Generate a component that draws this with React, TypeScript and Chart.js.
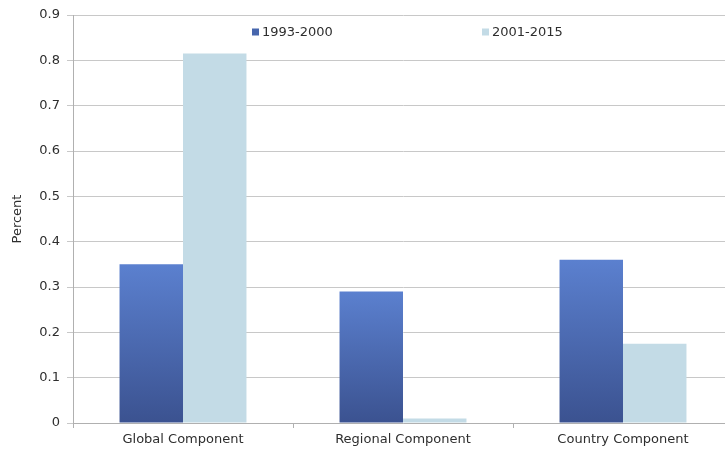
import React, { useEffect, useRef } from "react";
import { Chart, registerables, Plugin } from "chart.js";

Chart.register(...registerables);

const categories = ["Global Component", "Regional Component", "Country Component"];
const seriesLabels = ["1993-2000", "2001-2015"];
const period1993 = [0.35, 0.29, 0.36];
const period2001 = [0.815, 0.01, 0.175];
const yTicks = [0, 0.1, 0.2, 0.3, 0.4, 0.5, 0.6, 0.7, 0.8, 0.9];

const FONT = "'DejaVu Sans', Verdana, sans-serif";
const DARK_TOP = "#5b80cf";
const DARK_BOTTOM = "#3b5290";
const LIGHT = "#c3dbe6";
const TEXT = "#2e2e2e";
const AXIS = "#b0b0b0";

// Legend drawn inside the plot, spread across the top
const keyPlugin: Plugin<"bar"> = {
  id: "spreadKey",
  afterDraw(chart) {
    const ctx = chart.ctx;
    const xs = [252, 482];
    const y = 32;
    ctx.save();
    ctx.font = `13px ${FONT}`;
    ctx.textBaseline = "middle";
    ctx.textAlign = "left";
    chart.data.datasets.forEach((ds, i) => {
      const x = xs[i];
      ctx.fillStyle = i === 0 ? "#4766ad" : LIGHT;
      ctx.fillRect(x, y - 3.5, 7, 7);
      ctx.fillStyle = TEXT;
      ctx.fillText(String(ds.label), x + 10, y + 0.5);
    });
    ctx.restore();
  },
};

// Vertical gradient per bar, from its top down to the baseline
function darkFill(context: any) {
  const chart = context.chart;
  const yScale = chart.scales?.y;
  if (!chart.chartArea || !yScale || context.raw === undefined) return DARK_TOP;
  const top = yScale.getPixelForValue(context.raw);
  const bottom = yScale.getPixelForValue(0);
  if (!isFinite(top) || !isFinite(bottom) || Math.abs(bottom - top) < 1) return DARK_TOP;
  const g = chart.ctx.createLinearGradient(0, top, 0, bottom);
  g.addColorStop(0, DARK_TOP);
  g.addColorStop(1, DARK_BOTTOM);
  return g;
}

export default function App() {
  const ref = useRef<HTMLCanvasElement | null>(null);

  useEffect(() => {
    if (!ref.current) return;
    const chart = new Chart(ref.current, {
      type: "bar",
      data: {
        labels: categories,
        datasets: [
          {
            label: seriesLabels[0],
            data: period1993,
            backgroundColor: darkFill,
            borderWidth: 0,
            categoryPercentage: 0.577,
            barPercentage: 1,
          },
          {
            label: seriesLabels[1],
            data: period2001,
            backgroundColor: LIGHT,
            borderWidth: 0,
            categoryPercentage: 0.577,
            barPercentage: 1,
          },
        ],
      },
      options: {
        animation: false,
        responsive: false,
        maintainAspectRatio: false,
        devicePixelRatio: 1,
        layout: { padding: { top: 15, right: 12, left: 0, bottom: 0 } },
        plugins: {
          legend: { display: false },
          tooltip: { enabled: false },
        },
        scales: {
          x: {
            offset: true,
            grid: {
              display: true,
              offset: true,
              drawOnChartArea: false,
              drawTicks: true,
              tickLength: 5,
              color: AXIS,
            },
            border: { display: true, color: AXIS, width: 1 },
            ticks: {
              color: TEXT,
              font: { family: FONT, size: 13 },
              padding: 4,
              maxRotation: 0,
            },
            afterFit(scale: any) {
              scale.height = 28;
            },
          },
          y: {
            min: 0,
            max: 0.9,
            afterBuildTicks(scale: any) {
              scale.ticks = yTicks.map((v) => ({ value: v }));
            },
            grid: {
              color: "#c8c8c8",
              lineWidth: 1,
              drawTicks: true,
              tickLength: 6,
            },
            border: { display: true, color: AXIS, width: 1 },
            ticks: {
              color: TEXT,
              font: { family: FONT, size: 13 },
              padding: 7,
              callback: (v: any) => String(Number(v)),
            },
            title: {
              display: true,
              text: "Percent",
              color: TEXT,
              font: { family: FONT, size: 13 },
              padding: { top: 10, bottom: 0 },
            },
            afterFit(scale: any) {
              scale.width = 73;
            },
          },
        },
      },
      plugins: [keyPlugin],
    });
    return () => chart.destroy();
  }, []);

  return (
    <div
      style={{
        position: "fixed",
        left: 0,
        top: 0,
        width: 725,
        height: 451,
        overflow: "hidden",
        background: "#ffffff",
      }}
    >
      <canvas ref={ref} width={745} height={451} style={{ display: "block", width: 745, height: 451 }} />
    </div>
  );
}
